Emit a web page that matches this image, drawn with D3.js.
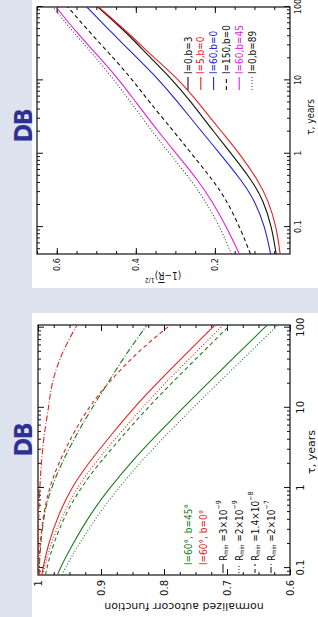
<!DOCTYPE html>
<html lang="en">
<head>
<meta charset="UTF-8">
<title>DB autocorrelation</title>
<script src="https://cdn.jsdelivr.net/npm/d3@7"></script>
<style>
    body { margin: 0; background: #dce2ee; }
    svg { display: block; }
    text { font-family: 'Liberation Sans Narrow', 'DejaVu Sans Condensed', 'Liberation Sans', sans-serif; }
    .wide text, text.wide { font-family: 'DejaVu Sans', 'Liberation Sans', sans-serif; }
</style>
</head>
<body>
<svg id="slide" width="318" height="617"></svg>
<script>
// ---- top chart: (1-R)^1/2 against tau ----
const topTau = [0.043, 0.1, 0.23, 0.43, 1, 1.9, 5.3, 10, 23, 43, 100];
const topLabels = ['l=0,b=3', 'l=5,b=0', 'l=60,b=0', 'l=150,b=0', 'l=60,b=45', 'l=0,b=89'];
const topL0b3   = [0.045, 0.056, 0.077, 0.106, 0.158, 0.200, 0.263, 0.306, 0.373, 0.420, 0.496];
const topL5b0   = [0.035, 0.044, 0.065, 0.090, 0.137, 0.180, 0.246, 0.289, 0.365, 0.416, 0.494];
const topL60b0  = [0.059, 0.073, 0.099, 0.132, 0.187, 0.230, 0.297, 0.340, 0.407, 0.458, 0.524];
const topL150b0 = [0.110, 0.137, 0.170, 0.204, 0.259, 0.300, 0.369, 0.407, 0.466, 0.513, 0.572];
const topL60b45 = [0.138, 0.170, 0.208, 0.242, 0.297, 0.340, 0.403, 0.441, 0.500, 0.547, 0.602];
const topL0b89  = [0.158, 0.187, 0.225, 0.259, 0.314, 0.355, 0.416, 0.454, 0.509, 0.555, 0.610];
const topTauTicks = [0.1, 1, 10, 100];
const topValTicks = [0.2, 0.4, 0.6];

// ---- bottom chart: normalized autocorr function ----
const botTau = [0.082, 0.1, 0.2, 0.5, 1, 2, 5, 10, 20, 50, 108];
const botGroups = ['l=60°, b=45°', 'l=60°, b=0°'];
const botRmin = [['3', '−9'], ['2', '−9'], ['1.4', '−8'], ['2', '−7']];
const greenSolid   = [0.969, 0.965, 0.945, 0.915, 0.886, 0.855, 0.807, 0.770, 0.731, 0.680, 0.636];
const greenDotted  = [0.962, 0.957, 0.935, 0.902, 0.872, 0.840, 0.792, 0.754, 0.715, 0.663, 0.619];
const greenDashed  = [0.988, 0.986, 0.976, 0.955, 0.932, 0.904, 0.860, 0.826, 0.789, 0.738, 0.695];
const greenDashDot = [0.998, 0.998, 0.996, 0.990, 0.979, 0.963, 0.937, 0.914, 0.890, 0.858, 0.827];
const redSolid     = [0.994, 0.992, 0.984, 0.966, 0.947, 0.921, 0.880, 0.848, 0.812, 0.762, 0.719];
const redDotted    = [0.992, 0.990, 0.980, 0.959, 0.938, 0.911, 0.868, 0.835, 0.799, 0.749, 0.706];
const redDashed    = [0.999, 0.999, 0.997, 0.991, 0.982, 0.968, 0.943, 0.920, 0.890, 0.842, 0.790];
const redDashDot   = [1.000, 1.000, 0.9995, 0.999, 0.997, 0.995, 0.990, 0.983, 0.979, 0.962, 0.938];
const botTauTicks = [0.1, 1, 10, 100];
const botValTicks = [0.6, 0.7, 0.8, 0.9, 1];

const RED = '#e42222', GREEN = '#1f7d1f';
const DASH = {solid: null, dot: '1,2', dash: '4,3', dashdot: '6,2,1,2'};

const slide = d3.select('#slide');
slide.append('rect').attr('width', 318).attr('height', 617).attr('fill', '#dce2ee');
slide.append('rect').attr('x', 32).attr('y', 0).attr('width', 286).attr('height', 288).attr('fill', '#fff');
slide.append('rect').attr('x', 32).attr('y', 313).attr('width', 286).attr('height', 304).attr('fill', '#fff');

function stepTicks(dom, step) {
    const out = [];
    for (let i = Math.ceil(dom[0] / step - 1e-6); i <= Math.floor(dom[1] / step + 1e-6); i++) out.push(+(i * step).toFixed(4));
    return out;
}

// builds one plot in normal orientation, then turns it 90 degrees to the left
function drawPanel(p) {
    const W = p.bottom - p.top, H = p.right - p.left;
    const g = slide.append('g').attr('transform', `translate(${p.left},${p.bottom}) rotate(-90)`);
    const x = d3.scaleLog().domain(p.tauDomain).range([0, W]);
    const y = d3.scaleLinear().domain(p.valDomain).range([H, 0]);

    g.append('clipPath').attr('id', p.id + 'clip').append('rect').attr('width', W).attr('height', H);

    const tauMinor = [];
    for (let e = -2; e <= 2; e++) for (let k = 2; k <= 9; k++) {
        const t = k * Math.pow(10, e);
        if (t >= p.tauDomain[0] && t <= p.tauDomain[1]) tauMinor.push(t);
    }
    const valMinor = stepTicks(p.valDomain, p.valMinorStep);
    const fmt = d => String(+d.toFixed(2));

    const axes = [
        [d3.axisBottom(x).tickValues(p.tauTicks).tickSize(-p.major).tickPadding(p.tauPad).tickFormat(fmt), `translate(0,${H})`],
        [d3.axisBottom(x).tickValues(tauMinor).tickSize(-p.minor).tickFormat(''), `translate(0,${H})`],
        [d3.axisTop(x).tickValues(p.tauTicks).tickSize(-p.major).tickFormat(''), null],
        [d3.axisTop(x).tickValues(tauMinor).tickSize(-p.minor).tickFormat(''), null],
        [d3.axisLeft(y).tickValues(p.valTicks).tickSize(-p.major).tickPadding(p.valPad).tickFormat(fmt), null],
        [d3.axisLeft(y).tickValues(valMinor).tickSize(-p.minor).tickFormat(''), null],
        [d3.axisRight(y).tickValues(p.valTicks).tickSize(-p.major).tickFormat(''), `translate(${W},0)`],
        [d3.axisRight(y).tickValues(valMinor).tickSize(-p.minor).tickFormat(''), `translate(${W},0)`]
    ];
    axes.forEach(([ax, tr]) => {
        const a = g.append('g').attr('transform', tr).call(ax);
        a.select('.domain').remove();
        a.selectAll('line').attr('stroke', '#111');
        a.selectAll('text').attr('font-size', p.tickFont).attr('fill', '#111').classed('wide', p.wide);
    });
    g.append('rect').attr('width', W).attr('height', H).attr('fill', 'none').attr('stroke', '#111').attr('stroke-width', 1.2);

    const line = d3.line().x(d => x(d.t)).y(d => y(d.v)).curve(d3.curveBasis);
    p.series.forEach(s => {
        g.append('path')
            .datum(p.tau.map((t, i) => ({t: t, v: s.values[i]})))
            .attr('clip-path', `url(#${p.id}clip)`)
            .attr('fill', 'none').attr('stroke', s.color).attr('stroke-width', s.width || 1.1)
            .attr('stroke-dasharray', DASH[s.dash])
            .attr('d', line);
    });

    g.append('text').attr('x', p.xTitle[0]).attr('y', p.xTitle[1])
        .attr('text-anchor', 'middle').attr('dominant-baseline', 'central').classed('wide', p.wide)
        .attr('font-size', p.titleFont).attr('fill', '#111').text('τ, years');

    const yt = g.append('text')
        .attr('transform', `translate(${p.yTitle[0]},${p.yTitle[1]}) rotate(-90)`)
        .attr('text-anchor', 'middle').attr('dominant-baseline', 'central').classed('wide', p.wide)
        .attr('font-size', p.titleFont).attr('fill', '#111');
    p.yTitleText(yt);
    return g;
}

// ---- top panel ----
const topStyle = [
    {color: '#111', dash: 'solid'}, {color: RED, dash: 'solid'}, {color: '#2222dd', dash: 'solid'},
    {color: '#111', dash: 'dash'}, {color: '#e020e0', dash: 'solid'}, {color: '#444', dash: 'dot'}
];
const topValues = [topL0b3, topL5b0, topL60b0, topL150b0, topL60b45, topL0b89];
const gTop = drawPanel({
    id: 'top', left: 37, right: 290, top: 7, bottom: 254, wide: false,
    tauDomain: [0.043, 100], valDomain: [0.01, 0.65],
    tauTicks: topTauTicks, valTicks: topValTicks, valMinorStep: 0.05,
    major: 6, minor: 3, tauPad: 5, valPad: 4, tickFont: 9, titleFont: 10,
    tau: topTau,
    series: topValues.map((v, i) => ({values: v, color: topStyle[i].color, dash: topStyle[i].dash})),
    xTitle: [137, 273], yTitle: [-22, 126],
    yTitleText: t => {
        t.append('tspan').text('(1−');
        t.append('tspan').attr('text-decoration', 'overline').text('R');
        t.append('tspan').text(')');
        t.append('tspan').attr('dy', -4).attr('font-size', 7).text('1/2');
    }
});
const topLeg = gTop.append('g');
topLabels.forEach((lab, i) => {
    const yy = 151 + i * 12.8;
    topLeg.append('line').attr('x1', 164).attr('x2', 177).attr('y1', yy).attr('y2', yy)
        .attr('stroke', topStyle[i].color).attr('stroke-width', 1.1).attr('stroke-dasharray', DASH[topStyle[i].dash]);
    topLeg.append('text').attr('x', 180).attr('y', yy).attr('dominant-baseline', 'central')
        .attr('font-size', 10).attr('fill', topStyle[i].color === '#444' ? '#111' : topStyle[i].color).text(lab);
});

// ---- bottom panel ----
const botStyle = [
    {color: GREEN, dash: 'solid'}, {color: GREEN, dash: 'dot'}, {color: GREEN, dash: 'dash'}, {color: GREEN, dash: 'dashdot'},
    {color: RED, dash: 'solid'}, {color: RED, dash: 'dot'}, {color: RED, dash: 'dash'}, {color: RED, dash: 'dashdot'}
];
const botValues = [greenSolid, greenDotted, greenDashed, greenDashDot, redSolid, redDotted, redDashed, redDashDot];
const gBot = drawPanel({
    id: 'bot', left: 38, right: 290, top: 325, bottom: 575, wide: true,
    tauDomain: [0.082, 108], valDomain: [0.6, 1.0],
    tauTicks: botTauTicks, valTicks: botValTicks, valMinorStep: 0.025,
    major: 6, minor: 3, tauPad: 7, valPad: 5, tickFont: 10, titleFont: 11,
    tau: botTau,
    series: botValues.map((v, i) => ({values: v, color: botStyle[i].color, dash: botStyle[i].dash})),
    xTitle: [123, 273], yTitle: [-31, 146],
    yTitleText: t => t.text('normalized autocorr function')
});
const botLeg = gBot.append('g');
botGroups.forEach((lab, i) => {
    botLeg.append('text').attr('x', 10).attr('y', 150 + i * 15).attr('dominant-baseline', 'central')
        .attr('font-size', 10).attr('fill', i === 0 ? GREEN : RED).text(lab);
});
const legDash = ['solid', 'dot', 'dash', 'dashdot'];
botRmin.forEach((r, i) => {
    const yy = 185 + i * 16;
    botLeg.append('line').attr('x1', 2).attr('x2', 11).attr('y1', yy).attr('y2', yy)
        .attr('stroke', '#111').attr('stroke-width', 1).attr('stroke-dasharray', DASH[legDash[i]]);
    const t = botLeg.append('text').attr('x', 14).attr('y', yy).attr('dominant-baseline', 'central')
        .attr('font-size', 10).attr('fill', '#111');
    t.append('tspan').text('R');
    t.append('tspan').attr('dy', 2).attr('font-size', 6).text('min');
    t.append('tspan').attr('dy', -2).text(' =' + r[0] + '×10');
    t.append('tspan').attr('dy', -4).attr('font-size', 7).text(r[1]);
});

// slide titles
[[23, 126], [23, 440]].forEach(([cx, cy]) => {
    slide.append('text').attr('transform', `translate(${cx},${cy}) rotate(-90)`)
        .attr('text-anchor', 'middle').attr('dominant-baseline', 'central')
        .attr('font-family', 'Liberation Sans, Arial, sans-serif').attr('font-weight', 'bold')
        .attr('font-size', 25).attr('letter-spacing', -1.5).attr('fill', '#2e3192').text('DB');
});
</script>
</body>
</html>
